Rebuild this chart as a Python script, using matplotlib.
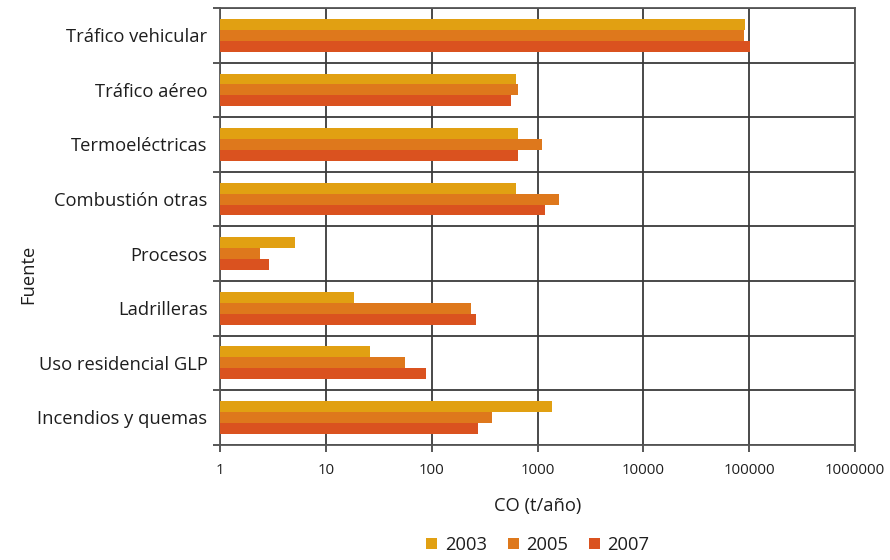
import matplotlib.pyplot as plt
import numpy as np
from matplotlib.ticker import FixedLocator, NullFormatter

plt.rcParams['font.family'] = ['Open Sans', 'DejaVu Sans']

fuentes = ["Tráfico vehicular", "Tráfico aéreo", "Termoeléctricas", "Combustión otras",
           "Procesos", "Ladrilleras", "Uso residencial GLP", "Incendios y quemas"]
anios = ["2003", "2005", "2007"]
co_2003 = [90600, 620, 650, 620, 5.1, 18.5, 26, 1360]
co_2005 = [90000, 650, 1110, 1610, 2.4, 234, 56, 374]
co_2007 = [102000, 556, 650, 1190, 2.9, 260, 89, 275]
colores = ["#E1A012", "#DE781C", "#DA521F"]
xticks = [1, 10, 100, 1000, 10000, 100000, 1000000]
xlabels = ["1", "10", "100", "1000", "10000", "100000", "1000000"]

fig = plt.figure(figsize=(8.9, 5.6), dpi=100)
ax = fig.add_axes([220/890, 1-444.7/560, 635/890, 436.7/560])

n = len(fuentes)
pos = np.arange(n)
h = 0.2
for k, (serie, col, lab) in enumerate(zip([co_2003, co_2005, co_2007], colores, anios)):
    ax.barh(pos - h + k*h, serie, height=h, color=col, label=lab, left=0, zorder=3)

ax.set_xscale('log')
ax.set_xlim(1, 1000000)
ax.set_ylim(n - 0.5, -0.5)
ax.set_xticks(xticks)
ax.set_xticklabels(xlabels)
ax.xaxis.set_minor_locator(FixedLocator([]))
ax.set_yticks(pos)
ax.set_yticklabels(fuentes)
ax.yaxis.set_minor_locator(FixedLocator(np.arange(n + 1) - 0.5))
ax.yaxis.set_minor_formatter(NullFormatter())

grid_col = "#3a3a3a"
txt_col = "#1e1e1e"
ax.grid(True, axis='x', which='major', color=grid_col, lw=1.3, zorder=1)
ax.grid(True, axis='y', which='minor', color=grid_col, lw=1.3, zorder=1)
ax.tick_params(axis='y', which='major', length=0, pad=9, labelsize=13.2, colors=txt_col)
ax.tick_params(axis='y', which='minor', length=5, width=1.2, color=grid_col)
ax.tick_params(axis='x', which='major', length=5, width=1.2, color=grid_col, pad=8,
               labelsize=10.8, labelcolor=txt_col)
for s in ax.spines.values():
    s.set_color("#555555")
    s.set_linewidth(1.3)

ax.set_xlabel("CO (t/año)", fontsize=13.2, color=txt_col, labelpad=14)
ax.set_ylabel("Fuente", fontsize=13.2, color=txt_col)
ax.yaxis.set_label_coords(-0.288, 0.39)

leg = fig.legend(loc='center', bbox_to_anchor=(538/890, 1-545/560), ncol=3, frameon=False,
                 fontsize=13.2, handlelength=0.6, handleheight=0.6, columnspacing=1.15,
                 handletextpad=0.4)
for t in leg.get_texts():
    t.set_color(txt_col)

fig.savefig("out.png", dpi=100)
